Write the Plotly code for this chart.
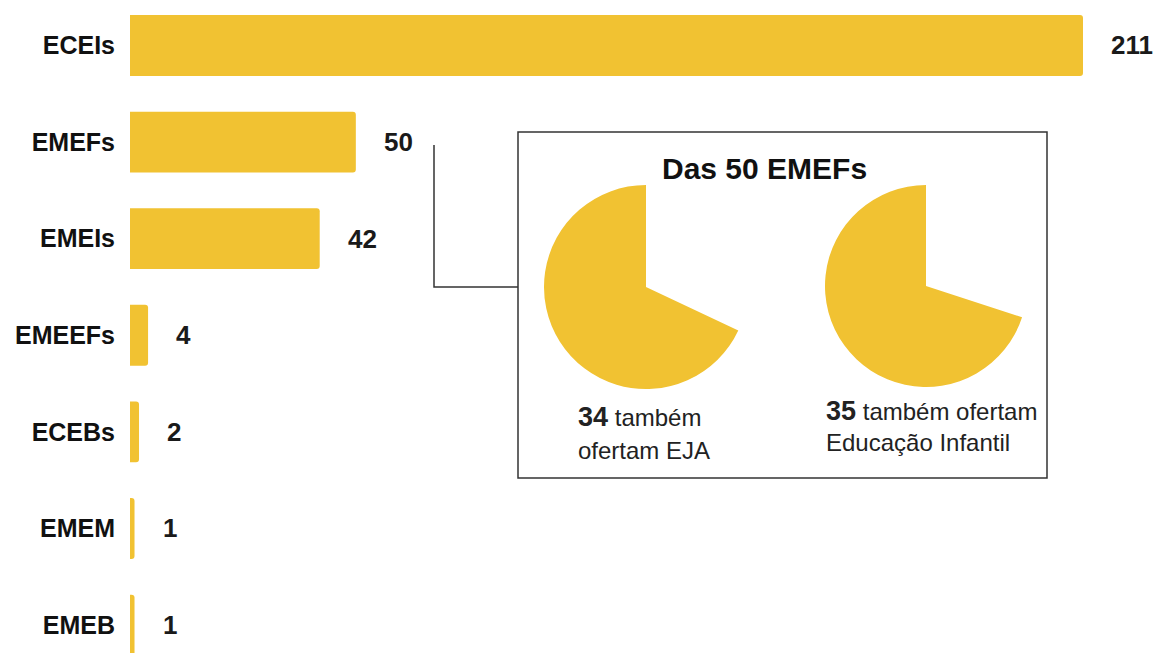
import plotly.graph_objects as go

categories = ["ECEIs", "EMEFs", "EMEIs", "EMEEFs", "ECEBs", "EMEM", "EMEB"]
values = [211, 50, 42, 4, 2, 1, 1]

emef_total = 50
pie_values = [34, 35]
pie_title = "Das 50 EMEFs"
pie_lines = [["também", "ofertam EJA"], ["também ofertam", "Educação Infantil"]]

YELLOW = "#F1C232"
FONT = "Arial, Liberation Sans, sans-serif"

OFF = 8                      # page body margin
W, H = 1165 - OFF, 653 - OFF
ML, MR, MT, MB = 122, 0, 0, 0
PW, PH = W - ML - MR, H - MT - MB


def px(X):
    """screen x pixel -> paper x"""
    return (X - OFF - ML) / PW


def py(Y):
    """screen y pixel -> paper y"""
    return 1 - (Y - OFF - MT) / PH


fig = go.Figure()
fig.add_trace(go.Bar(
    x=values, y=categories, orientation="h",
    marker=dict(color=YELLOW, line=dict(width=0), cornerradius=3),
    width=0.63, hoverinfo="skip", showlegend=False,
))

for cat, v in zip(categories, values):
    fig.add_annotation(x=v, y=cat, xref="x", yref="y", text=f"<b>{v}</b>",
                       showarrow=False, xanchor="left", xshift=26,
                       font=dict(family=FONT, size=26, color="#1a1a1a"))

pie_centers = [(646, 287, 102), (926, 286, 101)]
for val, (cx, cy, r) in zip(pie_values, pie_centers):
    fig.add_trace(go.Pie(
        values=[emef_total - val, val], sort=False, direction="clockwise", rotation=0,
        marker=dict(colors=["rgba(0,0,0,0)", YELLOW], line=dict(width=0)),
        textinfo="none", hoverinfo="skip", showlegend=False,
        domain=dict(x=[px(cx - r), px(cx + r)], y=[py(cy + r), py(cy - r)]),
    ))

fig.add_shape(type="rect", xref="paper", yref="paper",
              x0=px(518), x1=px(1047), y0=py(478), y1=py(132),
              line=dict(color="#333333", width=1.5), fillcolor="rgba(0,0,0,0)")
fig.add_shape(type="path", xref="paper", yref="paper",
              path=f"M {px(434)} {py(145)} L {px(434)} {py(287)} L {px(518)} {py(287)}",
              line=dict(color="#333333", width=1.5))

fig.add_annotation(x=px(764), y=py(168), xref="paper", yref="paper",
                   text=f"<b>{pie_title}</b>", showarrow=False,
                   xanchor="center", yanchor="middle",
                   font=dict(family=FONT, size=30, color="#111111"))

text_pos = [(576, 417, 450), (824, 411, 442)]
for val, lines, (tx, y1, y2) in zip(pie_values, pie_lines, text_pos):
    fig.add_annotation(x=px(tx), y=py(y1), xref="paper", yref="paper",
                       text=f"<b><span style='font-size:27px'>{val}</span></b> {lines[0]}",
                       showarrow=False, xanchor="left", yanchor="middle",
                       font=dict(family=FONT, size=24, color="#222222"))
    fig.add_annotation(x=px(tx), y=py(y2), xref="paper", yref="paper",
                       text=lines[1], showarrow=False, xanchor="left", yanchor="middle",
                       font=dict(family=FONT, size=24, color="#222222"))

fig.update_layout(
    width=W, height=H,
    margin=dict(l=ML, r=MR, t=MT, b=MB),
    paper_bgcolor="white", plot_bgcolor="white",
    xaxis=dict(range=[0, PW / (953 / 211)], visible=False, fixedrange=True),
    yaxis=dict(categoryorder="array", categoryarray=categories,
               range=[6.289, -0.388], showgrid=False, zeroline=False,
               showline=False, ticks="", ticklabelstandoff=14,
               tickfont=dict(family=FONT, size=25, color="#111111", weight="bold")),
)

fig.write_html("out.html")
